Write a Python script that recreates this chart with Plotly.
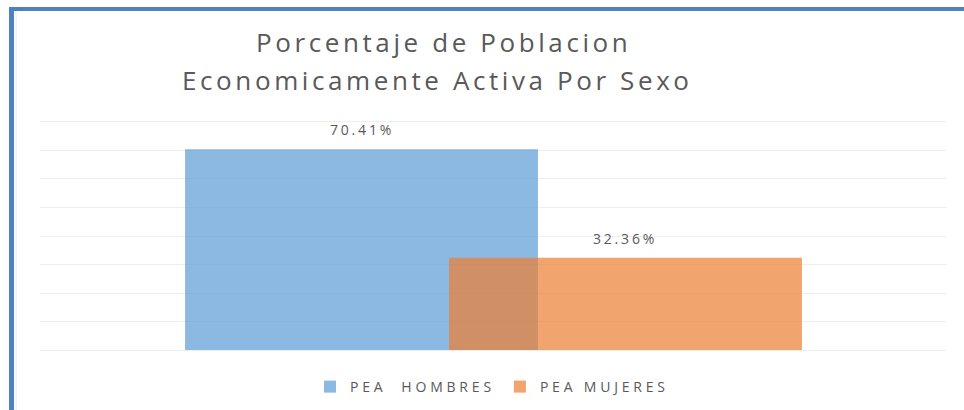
import plotly.graph_objects as go

categories = ["PEA\u00a0\u00a0HOMBRES", "PEA MUJERES"]
values = [70.41, 32.36]
colors = ["rgba(91,155,213,0.7)", "rgba(237,125,49,0.7)"]
title_lines = ["Porcentaje de Poblacion", "Economicamente Activa Por Sexo"]
y_ticks = [0, 10, 20, 30, 40, 50, 60, 70, 80]

W, H = 964, 410
L, R, T, B = 40, 17, 119, 60
FONT = "Open Sans"
GRAY = "#595959"


def px_x(p):
    return (p - L) / (W - L - R)


def px_y(p):
    return (H - B - p) / (H - T - B)


def spaced(txt, ls):
    return f'<span style="letter-spacing:{ls}px">{txt}</span>'


fig = go.Figure()
for i, (c, v) in enumerate(zip(categories, values)):
    fig.add_trace(go.Bar(
        x=[i], y=[v], name=spaced(c, 3.8), width=1.337,
        marker=dict(color=colors[i], line=dict(width=0)),
        hoverinfo="skip",
    ))
    fig.add_annotation(
        x=i, y=v, xref="x", yref="y", text=spaced(f"{v:.2f}%", 2.8),
        showarrow=False, yanchor="bottom", yshift=8,
        font=dict(family=FONT, size=14, color=GRAY),
    )

# title lines
for txt, cx, cy in [(title_lines[0], 443, 42), (title_lines[1], 437, 80)]:
    fig.add_annotation(
        x=px_x(cx), y=px_y(cy), xref="paper", yref="paper",
        text=spaced(txt, 3.6), showarrow=False,
        xanchor="center", yanchor="middle",
        font=dict(family=FONT, size=26, color=GRAY),
    )

# document frame lines
fig.add_shape(type="rect", xref="paper", yref="paper",
              x0=px_x(9), x1=px_x(14), y0=px_y(7), y1=px_y(H + 5),
              fillcolor="#4F81BD", line=dict(width=0), layer="above")
fig.add_shape(type="rect", xref="paper", yref="paper",
              x0=px_x(9), x1=px_x(W + 5), y0=px_y(7), y1=px_y(11),
              fillcolor="#4F81BD", line=dict(width=0), layer="above")
fig.add_shape(type="line", xref="paper", yref="paper",
              x0=px_x(16), x1=px_x(16), y0=px_y(12), y1=px_y(H + 5),
              line=dict(color="#E6E6E6", width=1), layer="above")

fig.update_layout(
    width=W, height=H,
    margin=dict(l=L, r=R, t=T, b=B, autoexpand=False),
    paper_bgcolor="white", plot_bgcolor="white",
    barmode="overlay",
    showlegend=True,
    legend=dict(orientation="h", x=px_x(492), xanchor="center",
                y=px_y(387), yanchor="middle",
                font=dict(family=FONT, size=14, color=GRAY),
                itemclick=False, itemdoubleclick=False),
    xaxis=dict(range=[-1.218, 2.218], showticklabels=False, showgrid=False,
               zeroline=False, showline=False, ticks=""),
    yaxis=dict(range=[0, 81.05], tickvals=y_ticks, showticklabels=False,
               showgrid=True, gridcolor="#EFEFEF", gridwidth=1,
               zeroline=True, zerolinecolor="#EFEFEF", zerolinewidth=1,
               showline=False, ticks=""),
)

fig.write_html("out.html",
               config={"displayModeBar": False},
               post_script="document.body.style.margin='0';")
